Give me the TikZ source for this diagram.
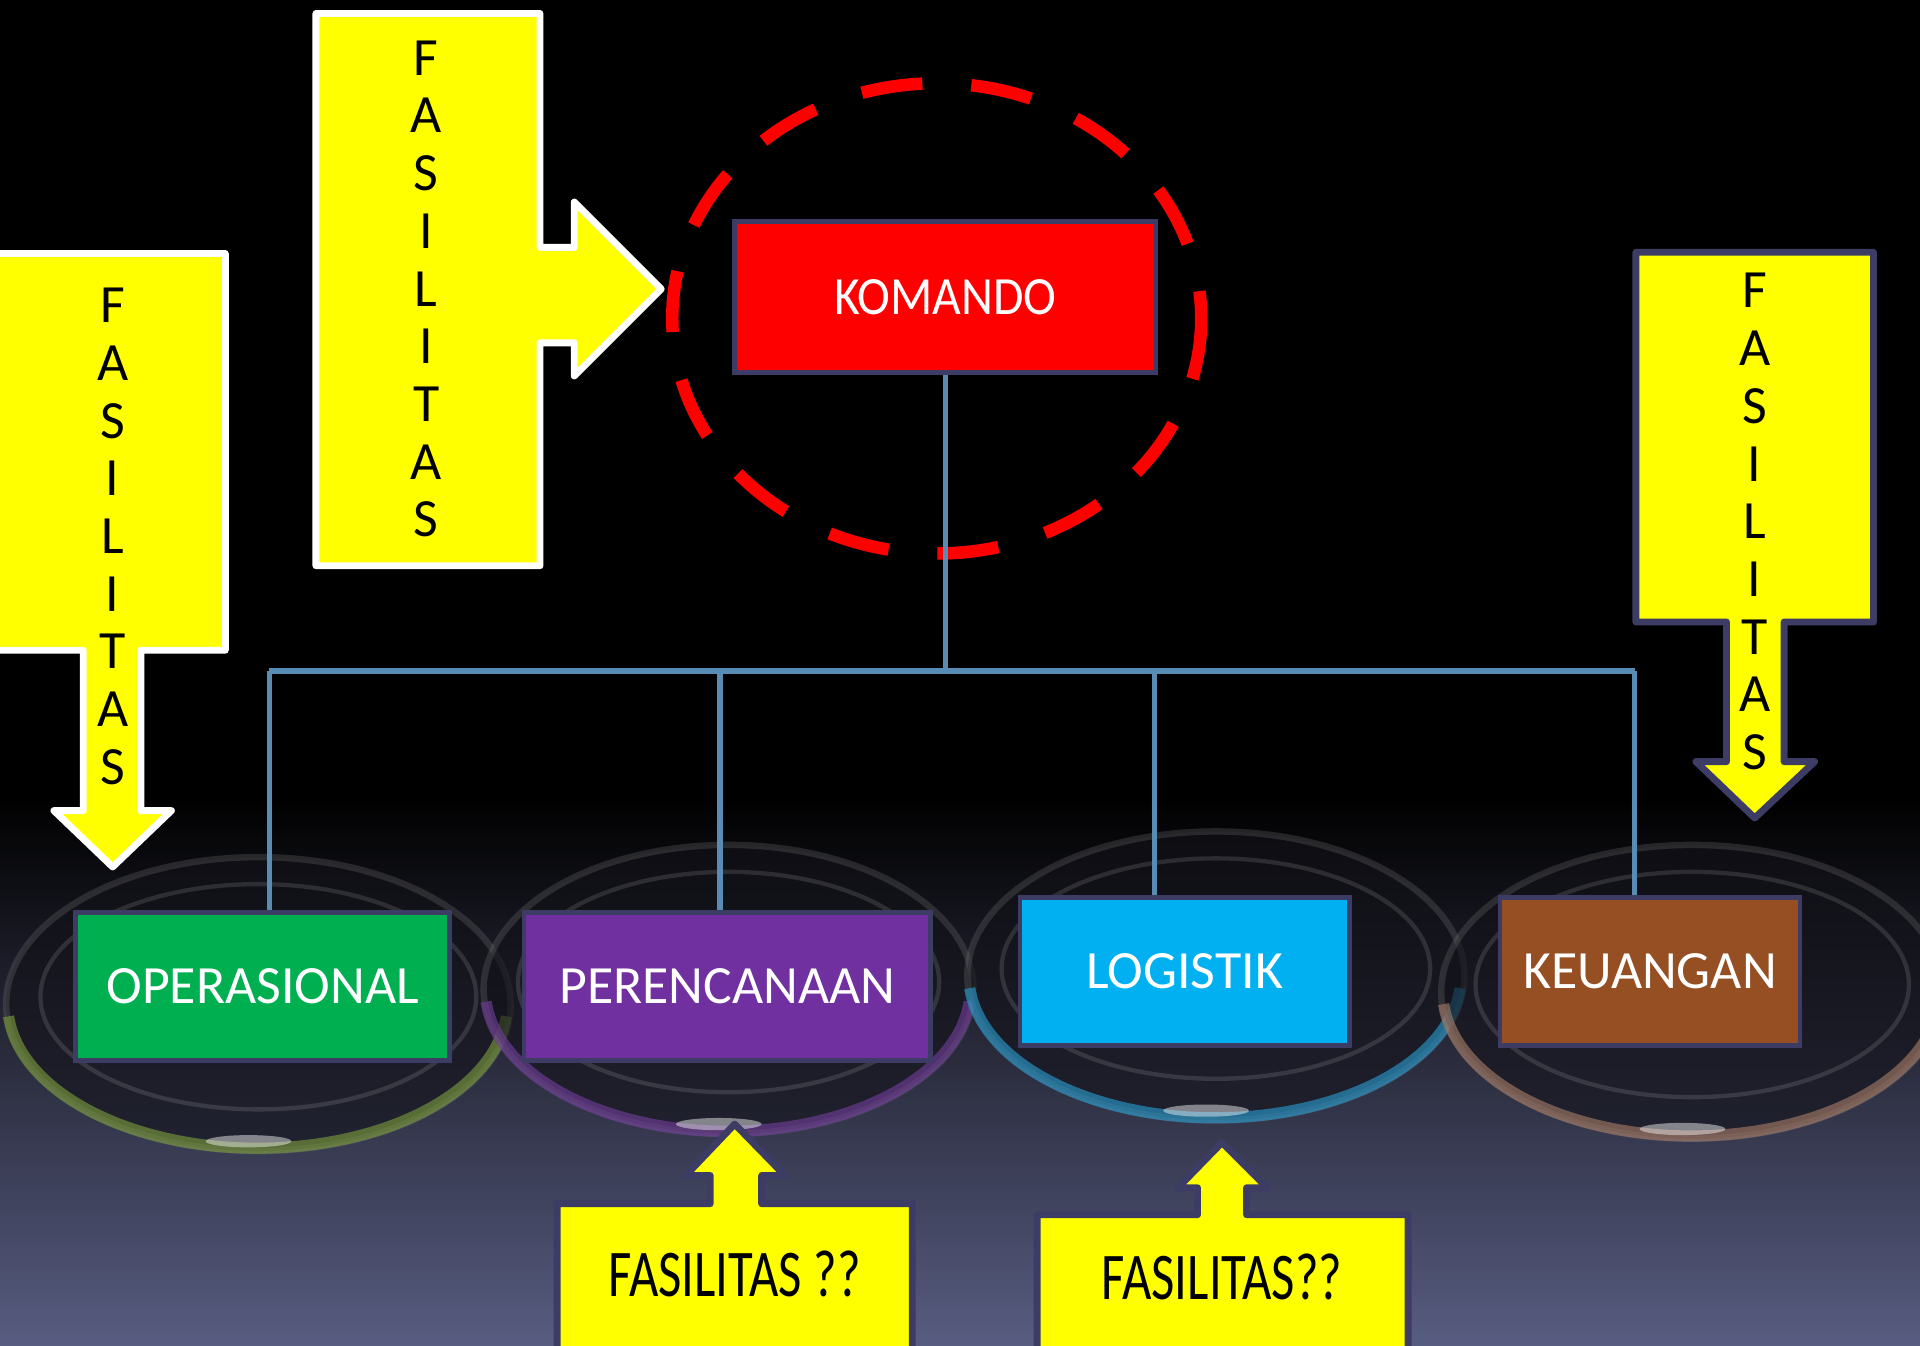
\documentclass[tikz,border=0pt]{standalone}
\usepackage{fontspec}
\setmainfont{Carlito}

\definecolor{slate}{RGB}{60,60,100}
\definecolor{callyellow}{RGB}{255,255,0}
\definecolor{linkblue}{RGB}{88,140,180}
\definecolor{opsgreen}{RGB}{0,176,80}
\definecolor{planpurple}{RGB}{112,48,160}
\definecolor{logcyan}{RGB}{0,176,240}
\definecolor{keubrown}{RGB}{149,79,34}
\definecolor{bgbottom}{RGB}{88,92,128}
\definecolor{rimgreen}{RGB}{120,150,60}
\definecolor{rimpurple}{RGB}{110,60,150}
\definecolor{rimcyan}{RGB}{40,150,200}
\definecolor{rimtan}{RGB}{160,120,100}

\begin{document}
\begin{tikzpicture}[
  x=0.01cm, y=-0.01cm,
  unit/.style={rectangle, draw=slate, line width=1.1pt, text=white, inner sep=0pt,
    minimum height=1.21cm, font=\fontsize{12.5}{15}\selectfont},
  callout/.style={fill=callyellow, line width=1.6pt, line join=round},
  vtext/.style={align=center, font=\fontsize{12.5}{13.4}\selectfont},
  qtext/.style={font=\fontsize{15.5}{18}\selectfont},
  link/.style={draw=linkblue, line width=1.2pt},
  ring/.style={draw=red, line width=2.9pt, dash pattern=on 0.5cm off 0.4cm}
  ]

\clip (0,0) rectangle (1568,1099);
\fill[black] (0,0) rectangle (1568,1099);
\shade[top color=black, bottom color=bgbottom] (0,650) rectangle (1568,1099);
\useasboundingbox (0,0) rectangle (1568,1099);

\foreach \cx/\cy/\rx/\ry/\rim in {211/820/206/120/rimgreen, 595/808/200/118/rimpurple,
    993/797/203/118/rimcyan, 1382/810/205/120/rimtan}{
  \fill[black!80!bgbottom, fill opacity=0.6] (\cx,\cy) ellipse [x radius=\rx, y radius=\ry];
  \draw[gray, opacity=0.25, line width=1.5pt] (\cx,\cy) ellipse [x radius=\rx, y radius=\ry];
  \draw[\rim, opacity=0.65, line width=2.6pt] (\cx-\rx+2,\cy+10) arc [start angle=175, end angle=5, x radius=\rx-2, y radius=\ry-2];
  \draw[white, opacity=0.12, line width=1pt] (\cx,\cy-6) ellipse [x radius=\rx-28, y radius=\ry-28];
  \fill[white, opacity=0.45] (\cx-8,\cy+\ry-8) ellipse [x radius=35, y radius=5];
}

\draw[ring] (765,260) ellipse [x radius=216, y radius=192];

\draw[callout, draw=white] (-3,207) -- (184,207) -- (184,531) -- (115,531) -- (115,662) -- (140,662)
  -- (92,708) -- (44,662) -- (68,662) -- (68,531) -- (-3,531) -- cycle;
\draw[callout, draw=white] (258,11) -- (441,11) -- (441,202) -- (469,202) -- (469,165) -- (540,236)
  -- (469,307) -- (469,280) -- (441,280) -- (441,462) -- (258,462) -- cycle;
\draw[callout, draw=slate] (1336,206) -- (1530,206) -- (1530,508) -- (1457,508) -- (1457,622) -- (1482,622)
  -- (1433,668) -- (1385,622) -- (1410,622) -- (1410,508) -- (1336,508) -- cycle;
\draw[callout, draw=slate] (455,983) -- (580,983) -- (580,960) -- (560,960) -- (600,918) -- (641,960)
  -- (622,960) -- (622,983) -- (745,983) -- (745,1103) -- (455,1103) -- cycle;
\draw[callout, draw=slate] (847,992) -- (978,992) -- (978,970) -- (962,970) -- (998,933) -- (1035,970)
  -- (1018,970) -- (1018,992) -- (1150,992) -- (1150,1103) -- (847,1103) -- cycle;

\node[vtext] (fasL) at (92,438) {F\\A\\S\\I\\L\\I\\T\\A\\S};
\node[vtext] (fasT) at (348,236) {F\\A\\S\\I\\L\\I\\T\\A\\S};
\node[vtext] (fasR) at (1433,426) {F\\A\\S\\I\\L\\I\\T\\A\\S};
\node[qtext] (fasB1) at (600,1040) {\scalebox{0.76}[1]{FASILITAS ??}};
\node[qtext] (fasB2) at (998,1043) {\scalebox{0.76}[1]{FASILITAS??}};

\node[unit, fill=red, minimum width=3.44cm, minimum height=1.23cm] (kom) at (772,242.5) {\scalebox{0.92}[1]{KOMANDO}};
\node[unit, fill=opsgreen, minimum width=3.05cm] (ops) at (214.5,805.5) {OPERASIONAL};
\node[unit, fill=planpurple, minimum width=3.32cm] (plan) at (594,805.5) {PERENCANAAN};
\node[unit, fill=logcyan, minimum width=2.69cm] (logi) at (967.5,793.5) {LOGISTIK};
\node[unit, fill=keubrown, minimum width=2.45cm] (keu) at (1347.5,793.5) {KEUANGAN};

\coordinate (bar) at (772,548);
\coordinate (j1) at (220,548);
\coordinate (j2) at (588,548);
\coordinate (j3) at (943,548);
\coordinate (j4) at (1335,548);

\draw[link] (kom) -- (bar);
\draw[link] (j1) -- (j4);
\foreach \j/\n in {j1/ops, j2/plan, j3/logi, j4/keu}
  \draw[link] (\j) -- (\j |- \n.north);

\end{tikzpicture}
\end{document}
